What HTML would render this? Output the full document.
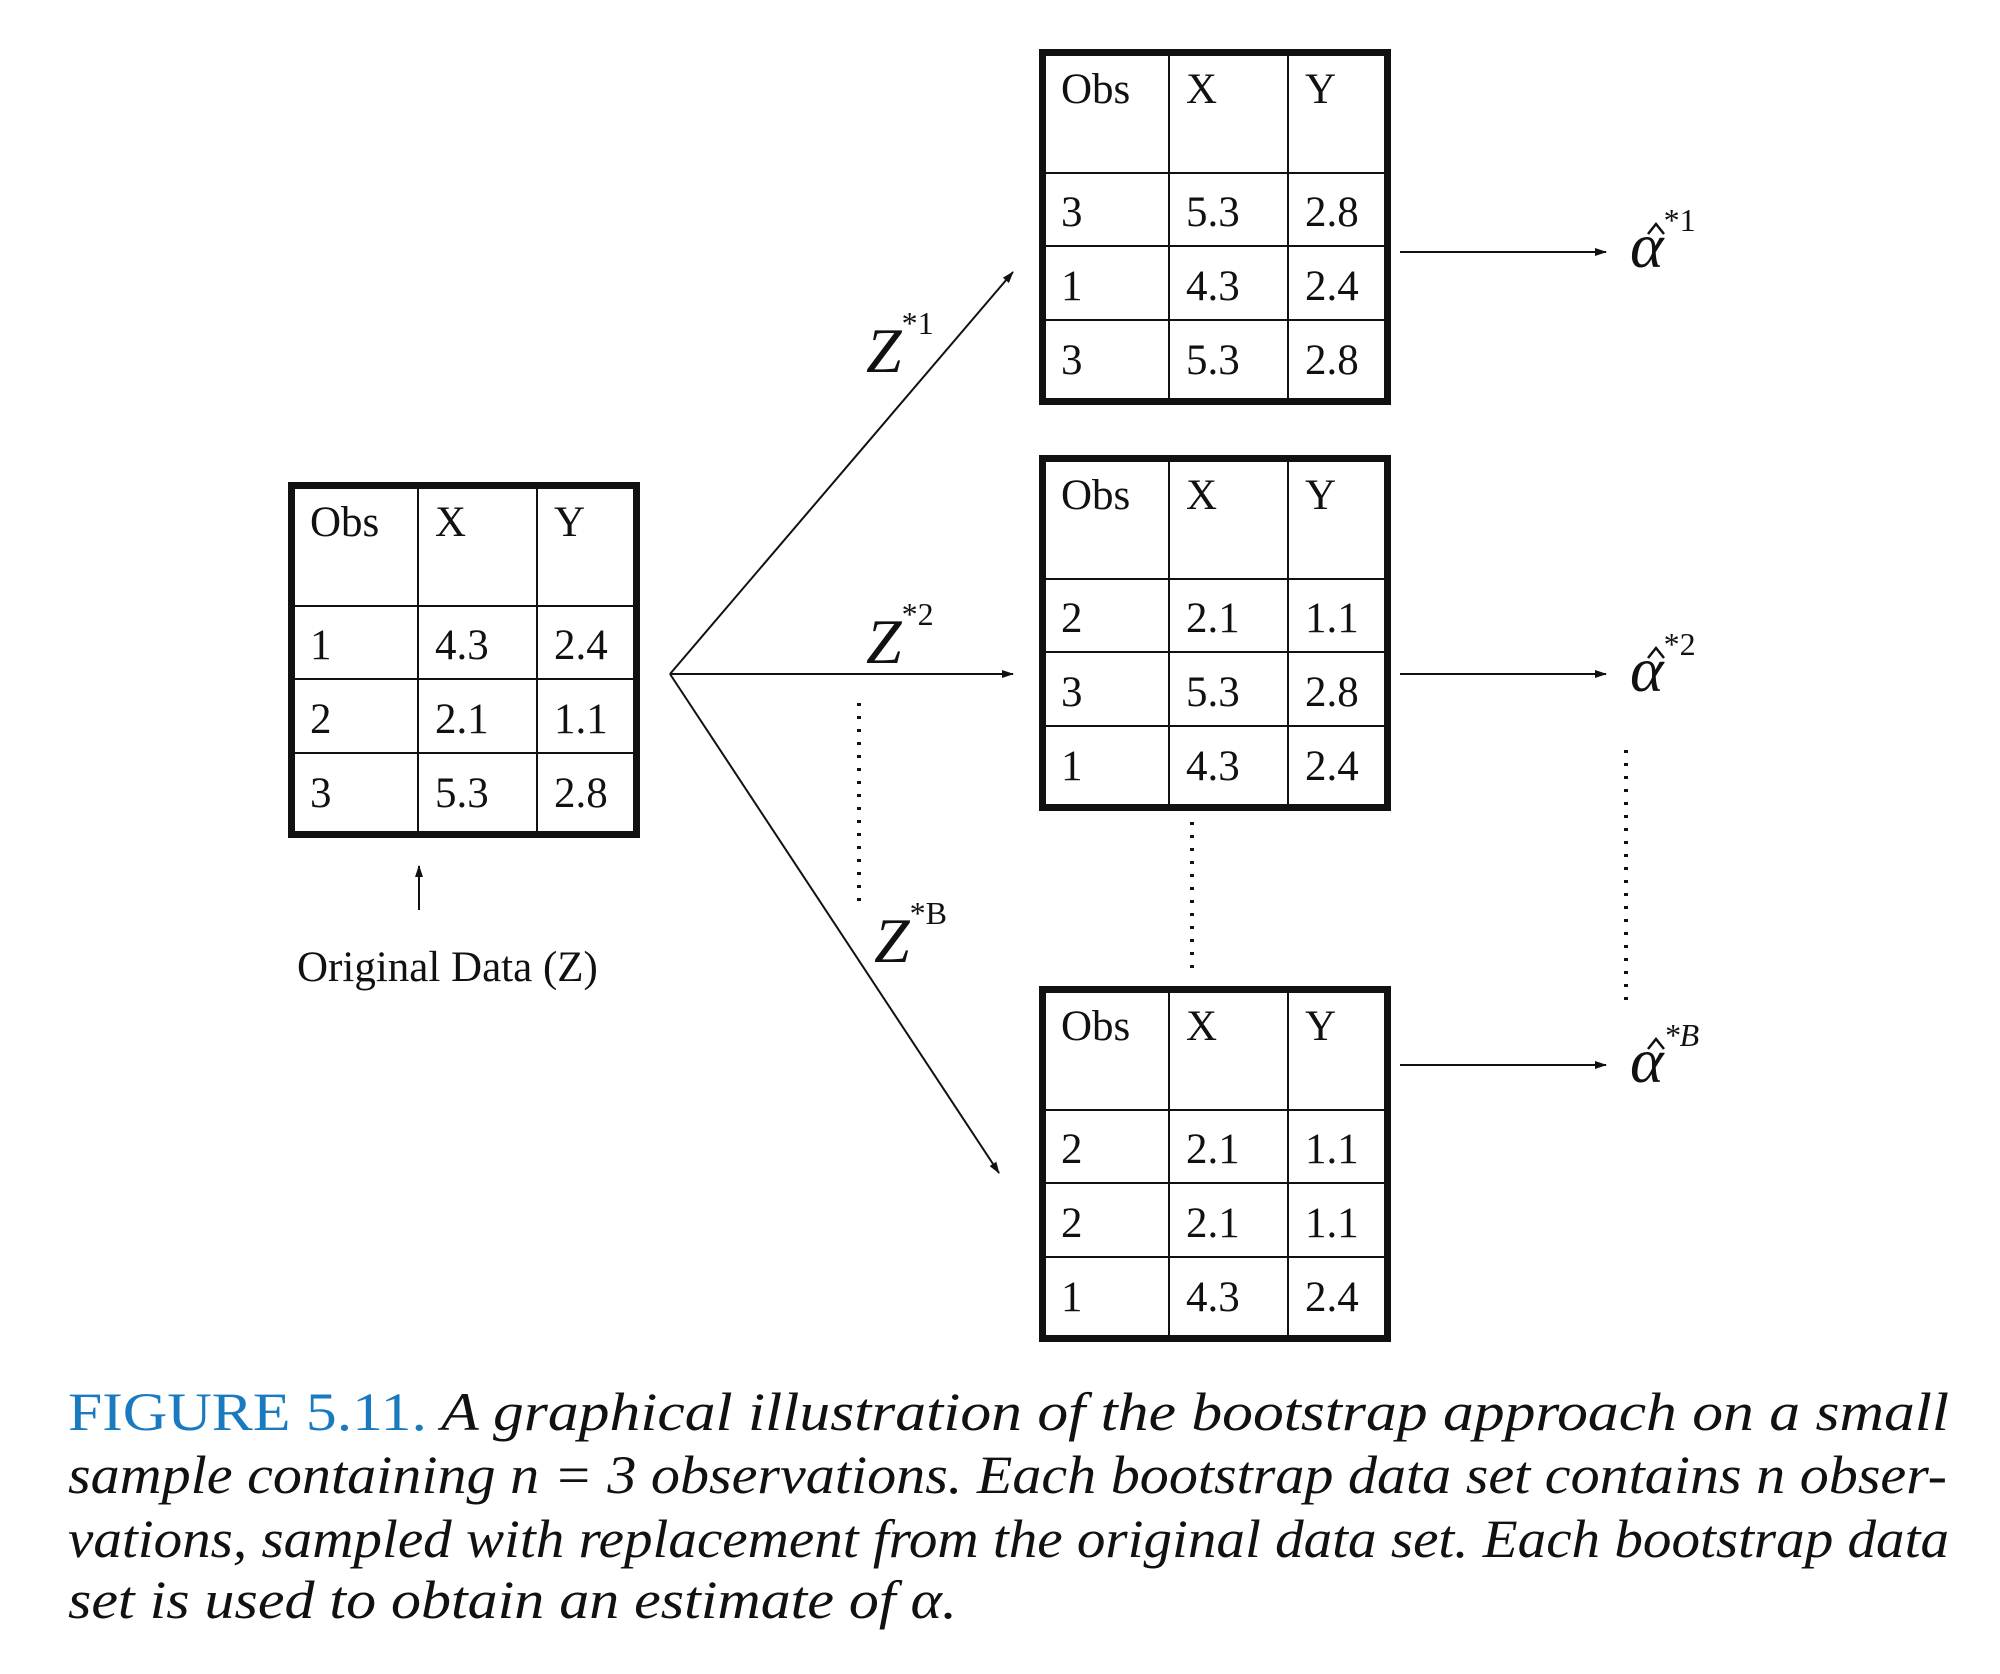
<!DOCTYPE html>
<html><head><meta charset="utf-8"><style>
html,body{margin:0;padding:0;background:#fff;}
svg{display:block;}
.t{font-family:"Liberation Serif",serif;font-size:43px;fill:#111;}
.z{font-family:"Liberation Serif",serif;font-style:italic;font-size:64px;fill:#111;}
.c{font-family:"Liberation Serif",serif;font-style:italic;font-size:54px;fill:#111;}
</style></head><body>
<svg width="2000" height="1674" viewBox="0 0 2000 1674" xmlns="http://www.w3.org/2000/svg">
<defs>
<marker id="ah" markerWidth="12" markerHeight="8" refX="11" refY="4" orient="auto" markerUnits="userSpaceOnUse">
<path d="M0,0 L12,4 L0,8 z" fill="#111"/>
</marker>
<g id="grid">
<rect x="3.5" y="3.5" width="345" height="349" fill="none" stroke="#111" stroke-width="7"/>
<line x1="130" y1="0" x2="130" y2="356" stroke="#111" stroke-width="2"/>
<line x1="249" y1="0" x2="249" y2="356" stroke="#111" stroke-width="2"/>
<line x1="0" y1="124" x2="352" y2="124" stroke="#111" stroke-width="2"/>
<line x1="0" y1="197" x2="352" y2="197" stroke="#111" stroke-width="2"/>
<line x1="0" y1="271" x2="352" y2="271" stroke="#111" stroke-width="2"/>
<text class="t" x="22" y="54">Obs</text><text class="t" x="147" y="54">X</text><text class="t" x="266" y="54">Y</text>
</g>
<path id="hat" d="M-8,10 L0,0 L8,10" fill="none" stroke="#111" stroke-width="2.5"/>
</defs>

<g transform="translate(288,482)">
<use href="#grid"/>
<text class="t" x="22" y="177">1</text><text class="t" x="147" y="177">4.3</text><text class="t" x="266" y="177">2.4</text>
<text class="t" x="22" y="251">2</text><text class="t" x="147" y="251">2.1</text><text class="t" x="266" y="251">1.1</text>
<text class="t" x="22" y="325">3</text><text class="t" x="147" y="325">5.3</text><text class="t" x="266" y="325">2.8</text>
</g>
<line x1="419" y1="910" x2="419" y2="866" stroke="#111" stroke-width="2" marker-end="url(#ah)"/>
<text class="t" x="297" y="981" font-size="44">Original Data (Z)</text>

<g transform="translate(1039,49)">
<use href="#grid"/>
<text class="t" x="22" y="177">3</text><text class="t" x="147" y="177">5.3</text><text class="t" x="266" y="177">2.8</text>
<text class="t" x="22" y="251">1</text><text class="t" x="147" y="251">4.3</text><text class="t" x="266" y="251">2.4</text>
<text class="t" x="22" y="325">3</text><text class="t" x="147" y="325">5.3</text><text class="t" x="266" y="325">2.8</text>
</g>
<g transform="translate(1039,455)">
<use href="#grid"/>
<text class="t" x="22" y="177">2</text><text class="t" x="147" y="177">2.1</text><text class="t" x="266" y="177">1.1</text>
<text class="t" x="22" y="251">3</text><text class="t" x="147" y="251">5.3</text><text class="t" x="266" y="251">2.8</text>
<text class="t" x="22" y="325">1</text><text class="t" x="147" y="325">4.3</text><text class="t" x="266" y="325">2.4</text>
</g>
<g transform="translate(1039,986)">
<use href="#grid"/>
<text class="t" x="22" y="177">2</text><text class="t" x="147" y="177">2.1</text><text class="t" x="266" y="177">1.1</text>
<text class="t" x="22" y="251">2</text><text class="t" x="147" y="251">2.1</text><text class="t" x="266" y="251">1.1</text>
<text class="t" x="22" y="325">1</text><text class="t" x="147" y="325">4.3</text><text class="t" x="266" y="325">2.4</text>
</g>

<g stroke="#111" stroke-width="2" fill="none">
<line x1="670" y1="674" x2="1013" y2="272" marker-end="url(#ah)"/>
<line x1="670" y1="674" x2="1013" y2="674" marker-end="url(#ah)"/>
<line x1="670" y1="674" x2="999" y2="1173" marker-end="url(#ah)"/>
<line x1="1400" y1="252" x2="1606" y2="252" marker-end="url(#ah)"/>
<line x1="1400" y1="674" x2="1606" y2="674" marker-end="url(#ah)"/>
<line x1="1400" y1="1065" x2="1606" y2="1065" marker-end="url(#ah)"/>
<line x1="859" y1="703" x2="859" y2="906" stroke-width="4" stroke-dasharray="3,10"/>
<line x1="1192" y1="822" x2="1192" y2="968" stroke-width="4" stroke-dasharray="3,10"/>
<line x1="1626" y1="750" x2="1626" y2="1006" stroke-width="4" stroke-dasharray="3,10"/>
</g>

<text class="z" x="866" y="372">Z<tspan font-style="normal" font-size="32" dy="-38">*1</tspan></text>
<text class="z" x="866" y="663">Z<tspan font-style="normal" font-size="32" dy="-38">*2</tspan></text>
<text class="z" x="874" y="962">Z<tspan font-style="normal" font-size="32" dy="-38">*B</tspan></text>

<g class="z" font-size="70">
<text x="1630" y="267">α<tspan font-style="normal" font-size="32" dy="-36">*1</tspan></text>
<text x="1630" y="691">α<tspan font-style="normal" font-size="32" dy="-36">*2</tspan></text>
<text x="1630" y="1082">α<tspan font-size="32" dy="-36">*B</tspan></text>
</g>
<use href="#hat" x="1656" y="224"/>
<use href="#hat" x="1656" y="648"/>
<use href="#hat" x="1656" y="1039"/>

<text class="c" x="68" y="1430" textLength="1881" lengthAdjust="spacingAndGlyphs"><tspan fill="#1a7ac0" font-style="normal">FIGURE 5.11.</tspan> A graphical illustration of the bootstrap approach on a small</text>
<text class="c" x="68" y="1493" textLength="1879" lengthAdjust="spacingAndGlyphs">sample containing n = 3 observations. Each bootstrap data set contains n obser-</text>
<text class="c" x="68" y="1557" textLength="1881" lengthAdjust="spacingAndGlyphs">vations, sampled with replacement from the original data set. Each bootstrap data</text>
<text class="c" x="68" y="1618" textLength="889" lengthAdjust="spacingAndGlyphs">set is used to obtain an estimate of α.</text>
</svg>
</body></html>
